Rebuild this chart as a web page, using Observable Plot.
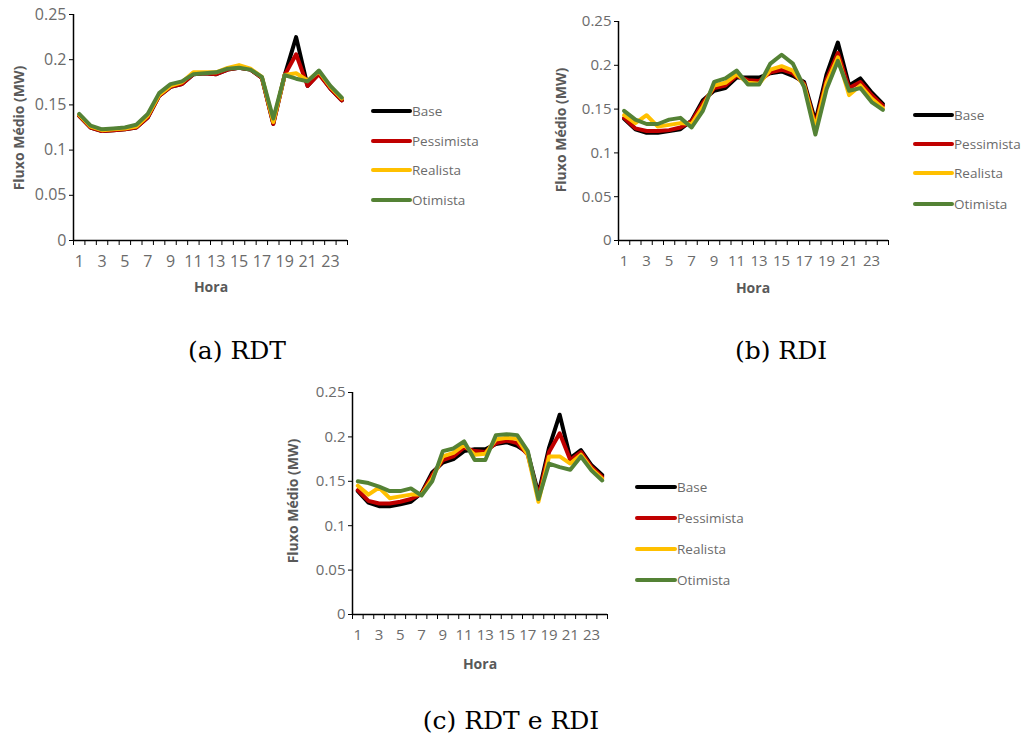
<!DOCTYPE html>
<html>
<head>
<meta charset="utf-8">
<script src="https://cdn.jsdelivr.net/npm/d3@7"></script>
<script src="https://cdn.jsdelivr.net/npm/@observablehq/plot@0.6"></script>
<style>
  html, body { margin: 0; padding: 0; background: #fff; }
  #root { position: relative; width: 1024px; height: 747px; overflow: hidden; background: #fff; }
  #root > svg { position: absolute; }
</style>
</head>
<body>
<div id="root"></div>
<script>
// ---------- data ----------
const hours = d3.range(1, 25);
const seriesNames = ["Base", "Pessimista", "Realista", "Otimista"];
const seriesColors = ["#000000", "#C00000", "#FFC000", "#548235"];
const yTicks = [0, 0.05, 0.1, 0.15, 0.2, 0.25];
const xTickLabels = [1, 3, 5, 7, 9, 11, 13, 15, 17, 19, 21, 23];
const captions = ["(a) RDT", "(b) RDI", "(c) RDT e RDI"];

// (a) RDT
const baseRDT = [0.138,0.125,0.121,0.122,0.123,0.125,0.136,0.160,0.170,0.173,0.184,0.185,0.184,0.189,0.191,0.189,0.180,0.129,0.183,0.225,0.171,0.185,0.168,0.155];
const pessRDT = [0.138,0.125,0.121,0.122,0.123,0.125,0.136,0.160,0.170,0.173,0.184,0.185,0.184,0.189,0.191,0.189,0.180,0.129,0.183,0.206,0.171,0.184,0.168,0.155];
const realRDT = [0.139,0.126,0.122,0.123,0.124,0.126,0.138,0.161,0.171,0.175,0.186,0.186,0.186,0.191,0.194,0.190,0.181,0.131,0.183,0.185,0.177,0.187,0.170,0.157];
const otimRDT = [0.140,0.127,0.123,0.124,0.125,0.128,0.140,0.163,0.173,0.176,0.184,0.185,0.186,0.190,0.191,0.189,0.181,0.135,0.183,0.179,0.176,0.188,0.171,0.158];

// (b) RDI
const baseRDI = [0.139,0.127,0.123,0.123,0.125,0.127,0.137,0.160,0.171,0.174,0.186,0.186,0.186,0.191,0.193,0.188,0.181,0.136,0.190,0.226,0.177,0.185,0.169,0.156];
const pessRDI = [0.140,0.128,0.125,0.125,0.126,0.129,0.136,0.157,0.174,0.177,0.188,0.183,0.182,0.192,0.195,0.191,0.179,0.132,0.184,0.214,0.174,0.181,0.166,0.154];
const realRDI = [0.143,0.134,0.143,0.130,0.132,0.134,0.133,0.153,0.177,0.180,0.190,0.180,0.179,0.195,0.199,0.194,0.177,0.129,0.180,0.209,0.166,0.177,0.162,0.151];
const otimRDI = [0.148,0.138,0.133,0.133,0.138,0.140,0.129,0.148,0.181,0.185,0.194,0.178,0.178,0.202,0.212,0.202,0.175,0.121,0.173,0.205,0.171,0.174,0.158,0.149];

// (c) RDT e RDI
const baseBoth = [0.139,0.126,0.122,0.122,0.124,0.127,0.137,0.160,0.171,0.175,0.184,0.186,0.186,0.192,0.194,0.190,0.182,0.136,0.188,0.225,0.176,0.185,0.168,0.157];
const pessBoth = [0.140,0.128,0.125,0.125,0.127,0.130,0.136,0.157,0.174,0.178,0.188,0.184,0.183,0.193,0.196,0.193,0.180,0.133,0.183,0.204,0.174,0.183,0.166,0.155];
const realBoth = [0.145,0.135,0.143,0.131,0.133,0.135,0.135,0.153,0.178,0.182,0.191,0.180,0.181,0.197,0.199,0.198,0.180,0.127,0.178,0.178,0.170,0.180,0.164,0.153];
const otimBoth = [0.150,0.148,0.144,0.139,0.139,0.142,0.134,0.150,0.184,0.187,0.195,0.174,0.174,0.202,0.203,0.202,0.184,0.130,0.170,0.166,0.163,0.178,0.162,0.151];

// ---------- helpers ----------
function toTable(arrays) {
  return arrays.flatMap((arr, i) => arr.map((v, j) => ({hour: hours[j], value: v, series: seriesNames[i]})));
}
const fmtY = d => String(+d.toFixed(2));
const boundaries = d3.range(0.5, 25, 1);

const panels = [
  {data: toTable([baseRDT, pessRDT, realRDT, otimRDT]), left: 0, top: 0, width: 360, height: 300,
   mL: 73, mR: 13, mT: 14, mB: 60, fs: 16,
   yTitle: [18, 128], xTitle: [211, 286], legend: {x1: 373, x2: 410, tx: 412, ys: [111, 141, 170, 200]}, cap: [237, 359]},
  {data: toTable([baseRDI, pessRDI, realRDI, otimRDI]), left: 540, top: 0, width: 360, height: 300,
   mL: 78, mR: 12, mT: 21, mB: 60, fs: 15,
   yTitle: [560, 130], xTitle: [753, 287], legend: {x1: 915, x2: 952, tx: 954, ys: [115, 144, 173, 204]}, cap: [781, 359]},
  {data: toTable([baseBoth, pessBoth, realBoth, otimBoth]), left: 270, top: 370, width: 360, height: 300,
   mL: 82, mR: 23, mT: 22, mB: 56, fs: 15,
   yTitle: [292, 501], xTitle: [480, 663], legend: {x1: 637, x2: 675, tx: 677, ys: [487, 518, 549, 580]}, cap: [511, 729]}
];

const root = document.getElementById("root");

panels.forEach((p, idx) => {
  const chart = Plot.plot({
    width: p.width, height: p.height,
    marginLeft: p.mL, marginRight: p.mR, marginTop: p.mT, marginBottom: p.mB,
    x: {domain: [0.5, 24.5]},
    y: {domain: [0, 0.25]},
    color: {domain: seriesNames, range: seriesColors},
    style: {fontFamily: "'Open Sans', sans-serif", fontSize: p.fs + "px", background: "transparent", overflow: "visible"},
    marks: [
      Plot.axisY({ticks: yTicks, tickFormat: fmtY, tickSize: 4, tickPadding: 3, stroke: "#000", fill: "#6b6b6b", label: null}),
      Plot.axisX({ticks: xTickLabels, tickSize: 0, tickPadding: 15, fill: "#6b6b6b", label: null}),
      Plot.axisX({ticks: boundaries, tickSize: 5, tickFormat: () => "", stroke: "#000", label: null}),
      Plot.ruleY([0], {stroke: "#000", strokeWidth: 1.5}),
      Plot.ruleX([0.5], {stroke: "#000", strokeWidth: 1.5}),
      Plot.line(p.data, {x: "hour", y: "value", z: "series", stroke: "series", strokeWidth: 4, strokeLinejoin: "round", strokeLinecap: "round"})
    ]
  });
  chart.style.left = p.left + "px";
  chart.style.top = p.top + "px";
  root.appendChild(chart);
});

// overlay for titles, legends, captions
const overlay = d3.select(root).append("svg")
  .attr("width", 1024).attr("height", 747)
  .style("left", "0px").style("top", "0px")
  .style("pointer-events", "none");

panels.forEach((p, idx) => {
  overlay.append("text")
    .attr("transform", `translate(${p.yTitle[0]},${p.yTitle[1]}) rotate(-90)`)
    .attr("text-anchor", "middle").attr("dominant-baseline", "central")
    .attr("font-family", "'Open Sans', sans-serif").attr("font-weight", "bold").attr("font-size", 14)
    .attr("fill", "#595959").text("Fluxo Médio (MW)");
  overlay.append("text")
    .attr("x", p.xTitle[0]).attr("y", p.xTitle[1])
    .attr("text-anchor", "middle").attr("dominant-baseline", "central")
    .attr("font-family", "'Open Sans', sans-serif").attr("font-weight", "bold").attr("font-size", 14)
    .attr("fill", "#595959").text("Hora");
  seriesNames.forEach((name, i) => {
    const y = p.legend.ys[i];
    overlay.append("line")
      .attr("x1", p.legend.x1).attr("x2", p.legend.x2).attr("y1", y).attr("y2", y)
      .attr("stroke", seriesColors[i]).attr("stroke-width", 4).attr("stroke-linecap", "round");
    overlay.append("text")
      .attr("x", p.legend.tx).attr("y", y)
      .attr("dominant-baseline", "central")
      .attr("font-family", "'Open Sans', sans-serif").attr("font-size", 13.5)
      .attr("fill", "#6b6b6b").text(name);
  });
  overlay.append("text")
    .attr("x", p.cap[0]).attr("y", p.cap[1])
    .attr("text-anchor", "middle")
    .attr("font-family", "'DejaVu Serif', serif").attr("font-size", 25)
    .attr("fill", "#000").text(captions[idx]);
});
</script>
</body>
</html>
